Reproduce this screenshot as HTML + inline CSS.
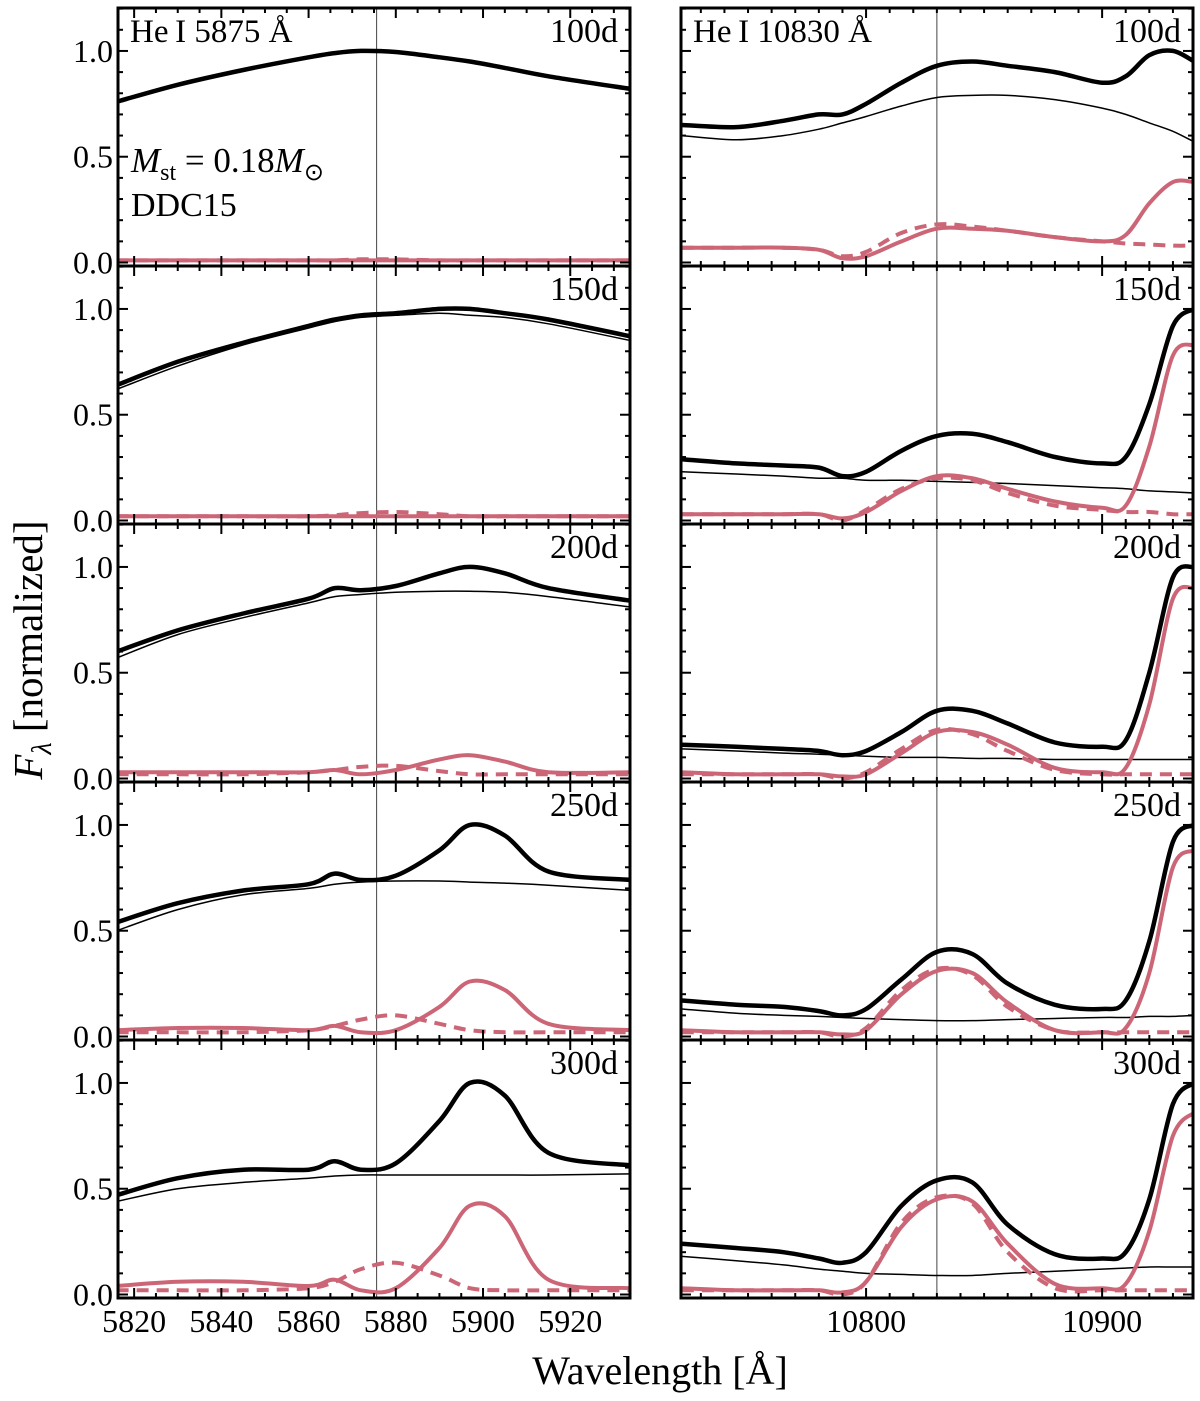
<!DOCTYPE html>
<html><head><meta charset="utf-8"><style>
body{margin:0;background:#fff}
svg{display:block;font-family:"Liberation Serif",serif}
</style></head><body>
<svg id="fig" width="1200" height="1401" viewBox="0 0 1200 1401" xmlns="http://www.w3.org/2000/svg">
<text x="0" y="0" transform="translate(42,650) rotate(-90)" text-anchor="middle" font-size="41"><tspan font-style="italic">F</tspan><tspan font-style="italic" font-size="28" dy="9">λ</tspan><tspan dy="-9"> [normalized]</tspan></text>
<text x="660" y="1384" text-anchor="middle" font-size="40">Wavelength [Å]</text>
</svg>
<script>
const epochs=["100d","150d","200d","250d","300d"];
const lamL=[5816,5830,5845,5860,5866,5872,5880,5890,5897,5905,5915,5934];
const lamR=[10722,10745,10765,10780,10790,10800,10815,10830,10845,10860,10880,10900,10910,10920,10930,10939];
const L_thick=[
[.76,.84,.91,.97,.99,1.0,.995,.97,.95,.92,.88,.82],
[.64,.75,.84,.92,.95,.97,.98,1.0,1.0,.98,.95,.87],
[.6,.7,.78,.85,.9,.89,.91,.97,1.0,.97,.9,.84],
[.54,.63,.69,.72,.77,.74,.76,.88,1.0,.95,.78,.74],
[.47,.55,.59,.59,.63,.59,.62,.82,1.0,.94,.67,.61]];
const L_thin=[
[.76,.84,.91,.97,.99,1.0,.995,.97,.95,.92,.88,.82],
[.62,.73,.83,.91,.94,.96,.97,.98,.97,.96,.93,.85],
[.57,.68,.76,.83,.86,.87,.88,.885,.885,.88,.86,.81],
[.5,.6,.67,.7,.72,.73,.735,.735,.73,.725,.715,.69],
[.44,.5,.53,.55,.56,.565,.565,.565,.565,.565,.565,.57]];
const L_pink=[
[.01,.01,.01,.01,.01,.01,.01,.01,.01,.01,.01,.01],
[.02,.02,.02,.02,.02,.02,.02,.02,.02,.02,.02,.02],
[.03,.03,.03,.03,.04,.02,.04,.09,.11,.08,.03,.03],
[.03,.04,.04,.03,.05,.02,.03,.14,.26,.22,.06,.03],
[.04,.06,.06,.04,.07,.02,.03,.22,.42,.37,.07,.03]];
const L_dash=[
[.01,.01,.01,.01,.01,.015,.015,.01,.01,.01,.01,.01],
[.02,.02,.02,.02,.025,.035,.04,.03,.02,.02,.02,.02],
[.02,.02,.02,.03,.04,.055,.06,.035,.02,.02,.02,.02],
[.02,.02,.02,.03,.05,.08,.1,.06,.03,.02,.02,.02],
[.02,.02,.02,.03,.06,.12,.15,.09,.03,.02,.02,.02]];
const R_thick=[
[.65,.64,.67,.70,.70,.75,.85,.93,.95,.93,.90,.85,.88,.98,1.0,.95],
[.29,.27,.26,.25,.21,.23,.33,.40,.41,.37,.30,.27,.30,.55,.92,1.0],
[.16,.15,.14,.13,.11,.13,.22,.32,.32,.26,.17,.15,.18,.5,.95,1.0],
[.17,.15,.14,.12,.1,.13,.27,.40,.39,.25,.15,.13,.17,.45,.92,1.0],
[.24,.22,.2,.17,.15,.2,.42,.54,.53,.33,.19,.17,.2,.45,.9,1.0]];
const R_thin=[
[.6,.58,.6,.63,.66,.69,.74,.78,.79,.79,.77,.73,.7,.66,.62,.57],
[.23,.22,.21,.20,.20,.19,.19,.185,.18,.175,.165,.155,.15,.14,.135,.13],
[.14,.13,.12,.115,.11,.105,.1,.1,.095,.095,.09,.09,.09,.09,.09,.09],
[.13,.11,.1,.095,.09,.085,.08,.075,.075,.08,.085,.09,.09,.095,.095,.1],
[.18,.16,.14,.12,.11,.1,.095,.09,.09,.1,.11,.12,.125,.13,.13,.13]];
const R_pink=[
[.07,.07,.07,.06,.02,.03,.10,.16,.16,.15,.12,.10,.13,.28,.38,.38],
[.03,.03,.03,.03,.01,.04,.14,.21,.2,.15,.09,.06,.07,.35,.78,.83],
[.03,.02,.02,.02,.01,.02,.12,.22,.22,.16,.05,.03,.05,.35,.85,.9],
[.03,.02,.02,.02,.01,.03,.2,.31,.3,.16,.03,.02,.04,.3,.8,.88],
[.03,.02,.02,.02,.01,.06,.32,.45,.44,.24,.05,.03,.05,.3,.75,.86]];
const R_dash=[
[.07,.07,.07,.06,.03,.05,.14,.18,.17,.15,.12,.10,.09,.085,.08,.08],
[.03,.03,.03,.03,.0,.05,.15,.2,.19,.13,.07,.05,.04,.04,.03,.03],
[.02,.02,.02,.02,.0,.03,.14,.23,.21,.13,.04,.02,.02,.02,.02,.02],
[.02,.02,.02,.02,.0,.04,.22,.32,.29,.14,.03,.02,.02,.02,.02,.02],
[.02,.02,.02,.02,.0,.06,.34,.46,.43,.2,.03,.02,.02,.02,.02,.02]];
const xTicksL=[5820,5840,5860,5880,5900,5920];
const xTicksR=[10800,10900];
const yTicks=[0,0.5,1.0];
const yTickLabels=["0.0","0.5","1.0"];

const NS="http://www.w3.org/2000/svg";
const svg=document.getElementById('fig');
const PINK="#CC6677";
const cols=[{x0:118,lo:5816.3,hi:5933.7,lam:lamL,th:L_thick,tn:L_thin,pk:L_pink,ds:L_dash,maj:20,min:5,ticks:xTicksL,line:5875.6,title:"He\u2009I 5875 Å",key:"left"},
{x0:681,lo:10721.6,hi:10938.5,lam:lamR,th:R_thick,tn:R_thin,pk:R_pink,ds:R_dash,maj:100,min:10,ticks:xTicksR,line:10830,title:"He\u2009I 10830 Å",key:"right"}];
const W=512,H=258,top0=8,ymin=-0.0165,ymax=1.203;
function el(t,a,p){const e=document.createElementNS(NS,t);for(const k in a)e.setAttribute(k,a[k]);(p||svg).appendChild(e);return e;}
function path(pts){let d="M"+pts[0][0].toFixed(1)+","+pts[0][1].toFixed(1);
for(let i=0;i<pts.length-1;i++){const p0=pts[Math.max(0,i-1)],p1=pts[i],p2=pts[i+1],p3=pts[Math.min(pts.length-1,i+2)];
const c1=[p1[0]+(p2[0]-p0[0])/6,p1[1]+(p2[1]-p0[1])/6],c2=[p2[0]-(p3[0]-p1[0])/6,p2[1]-(p3[1]-p1[1])/6];
d+=" C"+c1.map(v=>v.toFixed(1))+" "+c2.map(v=>v.toFixed(1))+" "+p2.map(v=>v.toFixed(1));}
return d;}
cols.forEach((c,ci)=>{
 const xs=v=>c.x0+(v-c.lo)/(c.hi-c.lo)*W;
 for(let r=0;r<5;r++){
  const y0=top0+r*H;
  const ys=v=>y0+H-(v-ymin)/(ymax-ymin)*H;
  const g=el('g',{});
  
  
  const cid='clip'+ci+r;
  const cp=el('clipPath',{id:cid},g);el('rect',{x:c.x0,y:y0,width:W,height:H},cp);
  const vl=el('line',{x1:xs(c.line),x2:xs(c.line),y1:y0,y2:y0+H,stroke:'#444','stroke-width':1},g);
  
  
  const series=[[c.tn[r],'#000',1.5,null,'thin-black-line'],[c.ds[r],PINK,4,'12,8','pink-dashed-line'],[c.pk[r],PINK,4,null,'pink-solid-line'],[c.th[r],'#000',4.5,null,'thick-black-line']];
  series.forEach(s=>{
   const pts=c.lam.map((l,i)=>[xs(l),ys(s[0][i])]);
   const a={d:path(pts),fill:'none',stroke:s[1],'stroke-width':s[2],'clip-path':'url(#'+cid+')','stroke-linejoin':'round'};
   if(s[3])a['stroke-dasharray']=s[3];
   const p=el('path',a,g);
   
   
  });
  for(let v=Math.ceil(c.lo/c.min)*c.min;v<=c.hi;v+=c.min){
   const len=(v%c.maj===0)?10:5;const x=xs(v);
   el('line',{x1:x,x2:x,y1:y0+H,y2:y0+H-len,stroke:'#000','stroke-width':2},g);
   el('line',{x1:x,x2:x,y1:y0,y2:y0+len,stroke:'#000','stroke-width':2},g);
  }
  for(let k=0;k<=12;k++){const v=k/10;const len=(k%5===0)?10:5;const y=ys(v);
   el('line',{x1:c.x0,x2:c.x0+len,y1:y,y2:y,stroke:'#000','stroke-width':2},g);
   el('line',{x1:c.x0+W,x2:c.x0+W-len,y1:y,y2:y,stroke:'#000','stroke-width':2},g);}
  if(ci===0){yTicks.forEach((v,i)=>{const t=el('text',{x:c.x0-5,y:ys(v)+11,'text-anchor':'end','font-size':32},g);t.textContent=yTickLabels[i];
   
   });}
  const fr=el('rect',{x:c.x0,y:y0,width:W,height:H,fill:'none',stroke:'#000','stroke-width':3},g);
  
  
  const et=el('text',{x:c.x0+W-12,y:y0+34,'text-anchor':'end','font-size':34},g);et.textContent=epochs[r];
  
  
  if(r===0){const tt=el('text',{x:c.x0+12,y:y0+34,'font-size':33},g);tt.textContent=c.title;
   
   }
  if(r===4){c.ticks.forEach(v=>{const t=el('text',{x:xs(v),y:y0+H+34,'text-anchor':'middle','font-size':32},g);t.textContent=v;
   
   });}
 }
});
const m=el('text',{x:131,y:172,'font-size':35});


m.innerHTML='<tspan font-style="italic">M</tspan><tspan font-size="24" dy="8">st</tspan><tspan dy="-8"> = 0.18</tspan><tspan font-style="italic">M</tspan><tspan font-size="24" dy="8">⊙</tspan>';
const dd=el('text',{x:131,y:216,'font-size':34});dd.textContent='DDC15';


</script>
</body></html>
